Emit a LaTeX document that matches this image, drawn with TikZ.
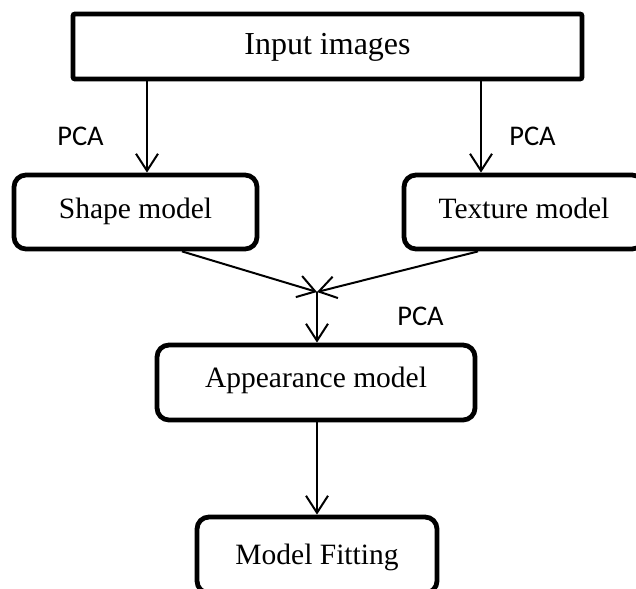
\documentclass[tikz,border=0pt]{standalone}
\usepackage{fontspec}
\setmainfont{Liberation Serif}
\newfontfamily\labelfont{Carlito}
\usetikzlibrary{arrows.meta}

\begin{document}
\begin{tikzpicture}[x=1pt,y=-1pt,
  box/.style={draw=black,line width=4.8pt,rounded corners=12pt,
    inner sep=0pt,text height=20pt,font=\fontsize{29.5}{30}\selectfont},
  flat/.style={box,rounded corners=2pt,font=\fontsize{32}{32}\selectfont},
  link/.style={line width=2pt,-{Straight Barb[length=17pt,width=22pt,line width=2pt]}},
  pca/.style={font=\labelfont\fontsize{28.5}{28.5}\selectfont,inner sep=0pt}]
  \useasboundingbox (0,0) rectangle (636,588);
  \clip (0,0) rectangle (636,588);

  % boxes
  \node[flat,minimum width=509pt,minimum height=65pt,text depth=3pt] (input) at (327.5,46.5) {Input images};
  \node[box,minimum width=243pt,minimum height=74pt,text depth=8pt] (shape) at (135.5,212) {Shape model};
  \node[box,minimum width=240pt,minimum height=74pt,text depth=8pt] (texture) at (524,212) {Texture model};
  \node[box,minimum width=318pt,minimum height=75pt,text depth=11pt] (appear) at (316,382.5) {Appearance model};
  \node[box,minimum width=240pt,minimum height=76pt,text depth=2pt] (fit) at (317,555) {Model Fitting};

  % helper coordinates for the connector columns
  \coordinate (colL) at (147,0);
  \coordinate (colR) at (481,0);
  \coordinate (srcL) at (182,0);
  \coordinate (srcR) at (478,0);
  \coordinate (merge) at (317,292);

  % connectors
  \draw[link] (colL |- input.south) -- (colL |- shape.north);
  \draw[link] (colR |- input.south) -- (colR |- texture.north);
  \draw[link] (srcL |- shape.south) -- (merge);
  \draw[link] (srcR |- texture.south) -- (merge);
  \draw[link] (merge) -- (merge |- appear.north);
  \draw[link] (merge |- appear.south) -- (merge |- fit.north);

  % labels
  \node[pca] (pcaL) at (80.5,136) {PCA};
  \node[pca] (pcaR) at (532.5,136) {PCA};
  \node[pca] (pcaM) at (420.5,316) {PCA};
\end{tikzpicture}
\end{document}
